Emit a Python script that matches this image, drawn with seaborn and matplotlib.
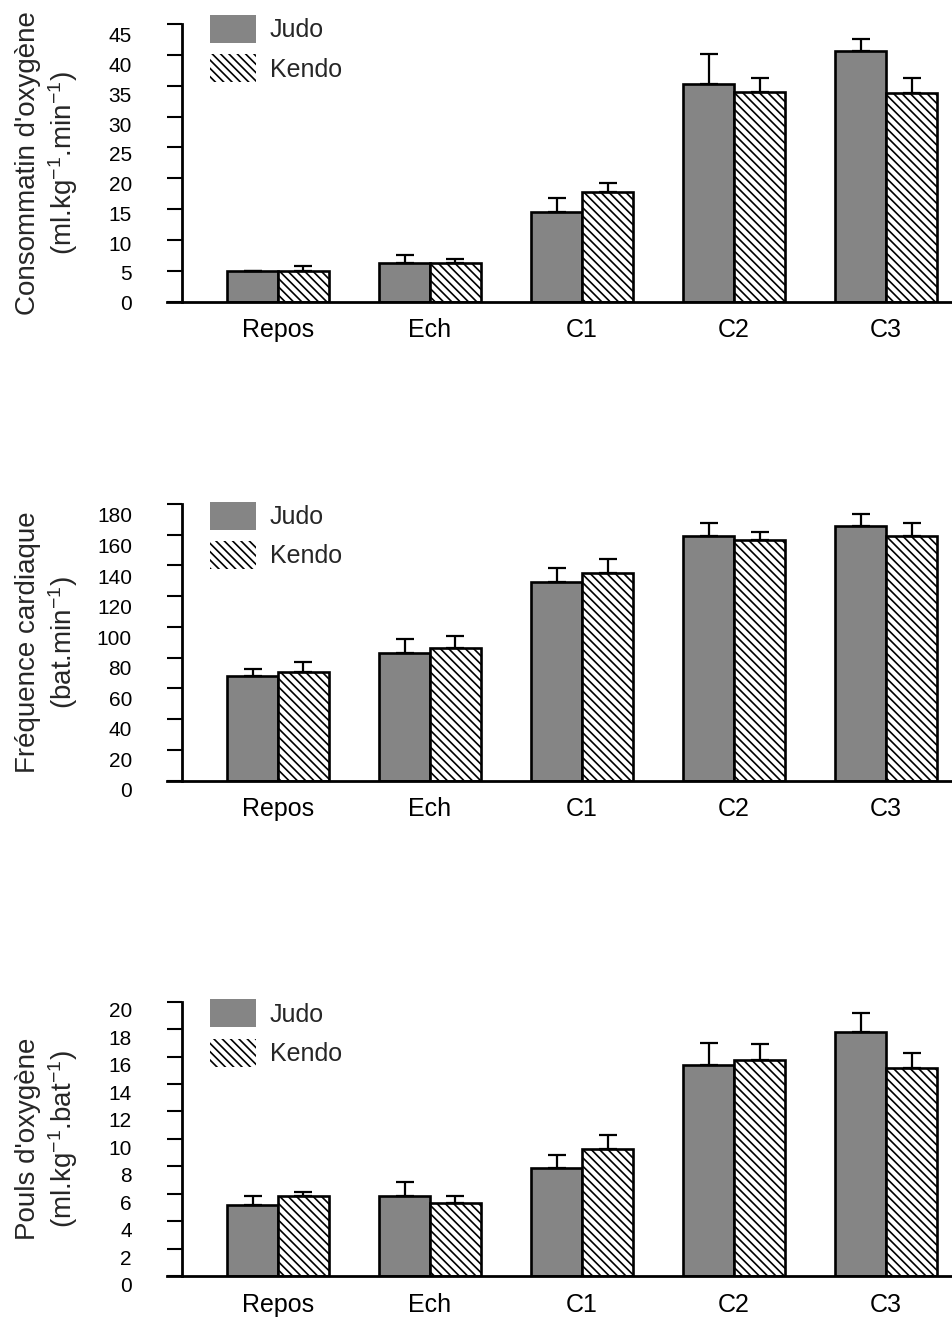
import numpy as np
import pandas as pd
import matplotlib
matplotlib.use('Agg')
import matplotlib.pyplot as plt
import seaborn as sns
from matplotlib.patches import Patch
from matplotlib.transforms import ScaledTranslation

categories = ['Repos', 'Ech', 'C1', 'C2', 'C3']
groups = ['Judo', 'Kendo']

# Consommation d'oxygene
vo2_judo = [5.0, 6.3, 14.6, 35.2, 40.7]
vo2_judo_err = [0.05, 1.3, 2.2, 5.0, 1.8]
vo2_kendo = [5.0, 6.3, 17.7, 34.0, 33.8]
vo2_kendo_err = [0.8, 0.7, 1.5, 2.3, 2.5]

# Frequence cardiaque
fc_judo = [68, 83, 129, 159.5, 166]
fc_judo_err = [4.5, 9, 9.5, 8, 7.5]
fc_kendo = [71, 86, 135, 156.5, 159.5]
fc_kendo_err = [6, 8, 9, 5, 8]

# Pouls d'oxygene
po2_judo = [5.2, 5.85, 7.9, 15.4, 17.8]
po2_judo_err = [0.65, 1.0, 0.9, 1.6, 1.35]
po2_kendo = [5.85, 5.35, 9.25, 15.75, 15.2]
po2_kendo_err = [0.3, 0.5, 1.0, 1.2, 1.05]

vo2_ticks = list(range(0, 46, 5))
fc_ticks = list(range(0, 181, 20))
po2_ticks = list(range(0, 21, 2))

vo2_label = "Consommatin d'oxygène\n(ml.kg$^{-1}$.min$^{-1}$)"
fc_label = "Fréquence cardiaque\n(bat.min$^{-1}$)"
po2_label = "Pouls d'oxygène\n(ml.kg$^{-1}$.bat$^{-1}$)"

GREY = '#858585'
HATCH = '\\\\\\\\'
W, H = 953, 1329

sns.set_style('white')
plt.rcParams['font.family'] = ['Liberation Sans', 'DejaVu Sans']
plt.rcParams['mathtext.fontset'] = 'custom'
plt.rcParams['mathtext.rm'] = 'Liberation Sans'
plt.rcParams['mathtext.default'] = 'regular'
plt.rcParams['hatch.linewidth'] = 1.2


def draw_panel(fig, zero_px, top_px, judo, judo_err, kendo, kendo_err, yticks, ylabel,
               legend_px, label_shift):
    """One bar panel: position given in pixels of the final image."""
    left = 167 / W
    bottom = 1 - zero_px / H
    height = (zero_px - top_px) / H
    ax = fig.add_axes([left, bottom, 1 - left, height])

    df = pd.DataFrame({
        'phase': categories * 2,
        'group': [groups[0]] * len(categories) + [groups[1]] * len(categories),
        'value': judo + kendo,
    })
    sns.barplot(data=df, x='phase', y='value', hue='group', order=categories,
                hue_order=groups, palette=[GREY, 'white'], saturation=1,
                width=0.67, edgecolor='black', linewidth=1.9, errorbar=None,
                legend=False, ax=ax)

    for bar in ax.containers[1]:
        bar.set_hatch(HATCH)

    # upper error bars only
    for cont, err in zip(ax.containers, [judo_err, kendo_err]):
        xs = [b.get_x() + b.get_width() / 2 for b in cont]
        hs = [b.get_height() for b in cont]
        ax.errorbar(xs, hs, yerr=[np.zeros(len(err)), err], fmt='none',
                    ecolor='black', elinewidth=1.6, capsize=6.5, capthick=1.6, zorder=3)

    ax.set_xlim(-0.73, 4.44)
    ax.set_ylim(yticks[0], yticks[-1])
    ax.set_yticks(yticks)
    ax.set_xlabel('')
    ax.set_ylabel(ylabel, fontsize=20, labelpad=0)
    ax.yaxis.set_label_coords(-0.111, 0.5)

    sns.despine(ax=ax)
    ax.spines['left'].set_position(('axes', 15 / (W - 167)))
    for side in ['left', 'bottom']:
        ax.spines[side].set_linewidth(2)
        ax.spines[side].set_color('black')

    ax.tick_params(axis='y', direction='out', length=11, width=1.5, pad=25,
                   labelsize=15, colors='black', left=True)
    ax.tick_params(axis='x', length=0, pad=12, labelsize=18, colors='black')

    # labels of the y ticks sit a little below their tick
    lo, hi = label_shift
    ticks = ax.yaxis.get_major_ticks()
    for i, tick in enumerate(ticks):
        px = lo + (hi - lo) * i / (len(ticks) - 1)
        shift = ScaledTranslation(0, -px / 100, fig.dpi_scale_trans)
        tick.label1.set_transform(tick.label1.get_transform() + shift)

    handles = [Patch(facecolor=GREY, edgecolor='none'),
               Patch(facecolor='white', edgecolor='black', linewidth=0, hatch=HATCH)]
    ax.legend(handles, groups, loc='upper left', frameon=False, fontsize=18,
              bbox_to_anchor=(legend_px[0] / W, 1 - legend_px[1] / H),
              bbox_transform=fig.transFigure, borderpad=0, borderaxespad=0,
              handlelength=1.84, handleheight=1.35, handletextpad=0.56,
              labelspacing=0.45)
    return ax


fig = plt.figure(figsize=(W / 100, H / 100), dpi=100)

draw_panel(fig, 301.7, 24, vo2_judo, vo2_judo_err, vo2_kendo, vo2_kendo_err,
           vo2_ticks, vo2_label, (210, 15), (1, 11))
draw_panel(fig, 780.7, 504, fc_judo, fc_judo_err, fc_kendo, fc_kendo_err,
           fc_ticks, fc_label, (210, 501.7), (9, 11))
draw_panel(fig, 1276, 1001.7, po2_judo, po2_judo_err, po2_kendo, po2_kendo_err,
           po2_ticks, po2_label, (210, 999.3), (9, 8))

fig.savefig('out.png', dpi=100)
plt.close(fig)
